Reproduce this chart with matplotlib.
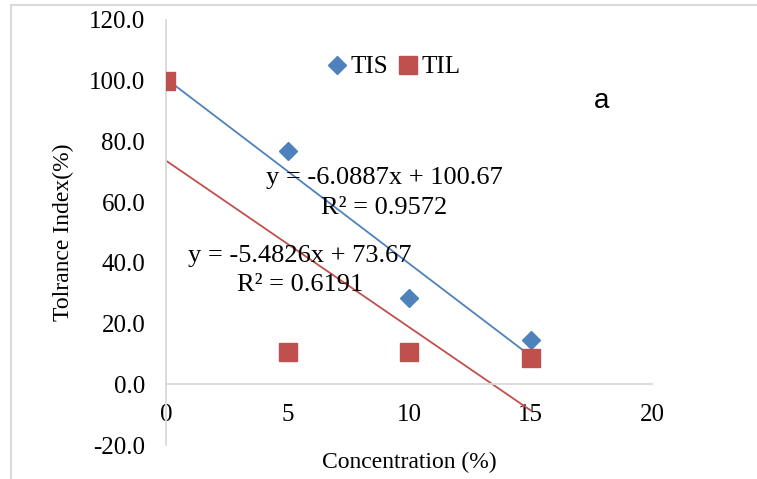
import numpy as np
import matplotlib.pyplot as plt
from matplotlib.patches import Rectangle

# data
conc = [0, 5, 10, 15]
tis = [100.0, 77.0, 28.5, 14.5]
til = [100.0, 10.5, 10.5, 8.5]

# trendline coefficients as printed on the chart
tis_fit = (-6.0887, 100.67)
til_fit = (-5.4826, 73.67)
tis_eq = ['y = -6.0887x + 100.67', 'R² = 0.9572']
til_eq = ['y = -5.4826x + 73.67', 'R² = 0.6191']

blue = '#4F81BD'
red = '#C0504D'
grey = '#D9D9D9'

plt.rcParams['font.family'] = ['Liberation Serif', 'DejaVu Serif']

fig = plt.figure(figsize=(7.57, 4.79), dpi=100)
ax = fig.add_axes([166 / 757, 1 - 445 / 479, (652 - 166) / 757, (445 - 20) / 479])

# outer chart border
fig.patches.append(Rectangle((11 / 757, -0.1), 1.2, 1.1 - 5 / 479,
                             transform=fig.transFigure, fill=False,
                             edgecolor=grey, lw=1.5))

# trendlines
xf = np.array([0, 15])
ax.plot(xf, tis_fit[0] * xf + tis_fit[1], color=blue, lw=1.3, zorder=2)
ax.plot(xf, til_fit[0] * xf + til_fit[1], color=red, lw=1.3, zorder=2)

# points
ax.plot(conc, tis, 'D', color=blue, ms=9, label='TIS', zorder=3)
ax.plot(conc, til, 's', color=red, ms=12.5, label='TIL', zorder=3)

ax.set_xlim(0, 20)
ax.set_ylim(-20, 120)
ax.set_xticks([0, 5, 10, 15, 20])
ax.set_yticks(np.arange(-20, 121, 20))
ax.set_yticklabels([f'{v:.1f}' for v in np.arange(-20, 121, 20)])

for s in ['top', 'right']:
    ax.spines[s].set_visible(False)
for s in ['left', 'bottom']:
    ax.spines[s].set_color(grey)
    ax.spines[s].set_position(('data', 0))
    ax.spines[s].set_linewidth(1.3)
ax.tick_params(axis='y', length=0, pad=15, labelsize=18)
ax.tick_params(axis='x', length=0, pad=14, labelsize=18)

ax.set_ylabel('Tolrance Index(%)', fontsize=17)
ax.yaxis.set_label_coords(-103 / 486, 0.5)
ax.set_xlabel('Concentration (%)', fontsize=17)
ax.xaxis.set_label_coords(0.5, -(462 - 445) / 425)
ax.xaxis.label.set_va('center')
ax.yaxis.label.set_va('center')

ax.text(8.97, 68, tis_eq[0], fontsize=19, ha='center', va='center')
ax.text(8.97, 58.2, tis_eq[1], fontsize=19, ha='center', va='center')
ax.text(5.5, 42.4, til_eq[0], fontsize=19, ha='center', va='center')
ax.text(5.5, 32.6, til_eq[1], fontsize=19, ha='center', va='center')

ax.text(17.94, 93.4, 'a', fontsize=20, family='Liberation Sans',
        ha='center', va='center')

ax.legend(loc='center', bbox_to_anchor=(392.5 / 757, 1 - 67 / 479),
          bbox_transform=fig.transFigure, ncol=2, frameon=False,
          fontsize=18, handletextpad=0.05, columnspacing=0.3,
          handlelength=1.0, borderaxespad=0)

fig.savefig('out.png', dpi=100)
